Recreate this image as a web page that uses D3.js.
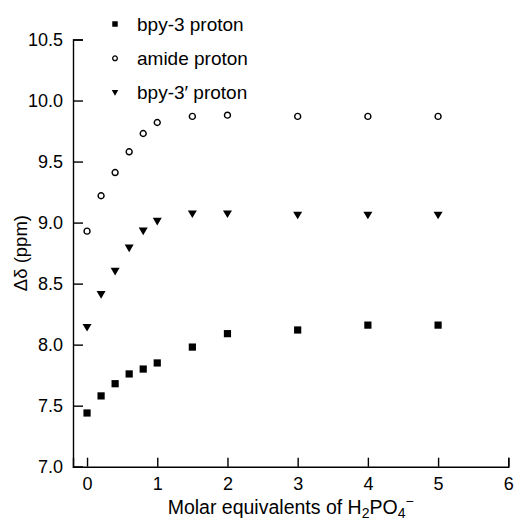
<!DOCTYPE html>
<html>
<head>
<meta charset="utf-8">
<script src="https://cdn.jsdelivr.net/npm/d3@7"></script>
<style>
  body { margin: 0; background: #fff; }
  svg text { font-family: "Liberation Sans", Arial, sans-serif; fill: #000; }
</style>
</head>
<body>
<div id="chart"></div>
<script>
// equivalents of H2PO4- added
var equivalents = [0, 0.2, 0.4, 0.6, 0.8, 1, 1.5, 2, 3, 4, 5];
// chemical shifts (ppm)
var bpy3 = [7.44, 7.58, 7.68, 7.76, 7.80, 7.85, 7.98, 8.09, 8.12, 8.16, 8.16];
var amide = [8.93, 9.22, 9.41, 9.58, 9.73, 9.82, 9.87, 9.88, 9.87, 9.87, 9.87];
var bpy3p = [8.14, 8.41, 8.60, 8.79, 8.93, 9.01, 9.07, 9.07, 9.06, 9.06, 9.06];
var seriesNames = ['bpy-3 proton', 'amide proton', 'bpy-3\u2032 proton'];
var xTicks = [0, 1, 2, 3, 4, 5, 6];
var yTicks = [7.0, 7.5, 8.0, 8.5, 9.0, 9.5, 10.0, 10.5];

(function() {
	'use strict';

	var width = 514, height = 520;
	var svg = d3.select('#chart').append('svg')
		.attr('width', width)
		.attr('height', height);

	var x = d3.scaleLinear().domain([-0.2, 6]).range([73, 508.3]);
	var y = d3.scaleLinear().domain([7, 10.5]).range([466.7, 39.5]);

	var xAxis = svg.append('g')
		.attr('transform', 'translate(0,' + y(7) + ')')
		.call(d3.axisBottom(x).tickValues(xTicks).tickFormat(d3.format('d'))
			.tickSizeInner(-9).tickSizeOuter(-9).tickPadding(11));
	xAxis.selectAll('text').style('font-size', '18px');

	var yAxis = svg.append('g')
		.attr('transform', 'translate(' + x(-0.2) + ',0)')
		.call(d3.axisLeft(y).tickValues(yTicks).tickFormat(d3.format('.1f'))
			.tickSizeInner(-10).tickSizeOuter(-10).tickPadding(10));
	yAxis.selectAll('text').style('font-size', '18px');

	svg.selectAll('.domain, .tick line')
		.attr('stroke', '#000')
		.attr('stroke-width', 1.4);

	// y label
	svg.append('text')
		.attr('transform', 'translate(27,' + ((y(7) + y(10.5)) / 2) + ') rotate(-90)')
		.attr('text-anchor', 'middle')
		.style('font-size', '18.5px')
		.text('\u0394\u03b4 (ppm)');

	// x label
	var xl = svg.append('text')
		.attr('x', (x(-0.2) + x(6)) / 2)
		.attr('y', 514)
		.attr('text-anchor', 'middle')
		.style('font-size', '19.5px');
	xl.append('tspan').text('Molar equivalents of H');
	xl.append('tspan').attr('dy', 4).style('font-size', '14px').text('2');
	xl.append('tspan').attr('dy', -4).text('PO');
	xl.append('tspan').attr('dy', 4).style('font-size', '14px').text('4');
	xl.append('tspan').attr('dy', -12).style('font-size', '14px').text('\u2212');

	var symSquare = d3.symbol().type(d3.symbolSquare);
	var triangle = function(s) {
		return 'M' + (-s / 2) + ',' + (-s * 0.4) + 'L' + (s / 2) + ',' + (-s * 0.4) + 'L0,' + (s * 0.45) + 'Z';
	};

	function points(data, draw) {
		var g = svg.append('g');
		var sel = g.selectAll('path').data(data).enter().append('path')
			.attr('transform', function(d, i) {
				return 'translate(' + x(equivalents[i]) + ',' + y(d) + ')';});
		draw(sel);
	}

	points(bpy3, function(sel) {
		sel.attr('d', symSquare.size(52)()).attr('fill', '#000');});
	points(amide, function(sel) {
		sel.attr('d', d3.symbol().type(d3.symbolCircle).size(28)())
			.attr('fill', '#fff').attr('stroke', '#000').attr('stroke-width', 1.4);});
	points(bpy3p, function(sel) {
		sel.attr('d', triangle(9)).attr('fill', '#000');});

	// legend
	var legendY = [24, 58.3, 92.7];
	var legend = svg.append('g');
	legend.append('path')
		.attr('transform', 'translate(115,' + legendY[0] + ')')
		.attr('d', symSquare.size(30)()).attr('fill', '#000');
	legend.append('path')
		.attr('transform', 'translate(115,' + legendY[1] + ')')
		.attr('d', d3.symbol().type(d3.symbolCircle).size(17)())
		.attr('fill', '#fff').attr('stroke', '#000').attr('stroke-width', 1.3);
	legend.append('path')
		.attr('transform', 'translate(115,' + legendY[2] + ')')
		.attr('d', triangle(6.5)).attr('fill', '#000');
	legend.selectAll('text').data(seriesNames).enter().append('text')
		.attr('x', 137)
		.attr('y', function(d, i) {return legendY[i] + 6.5;})
		.style('font-size', '19px')
		.text(function(d) {return d;});
})();
</script>
</body>
</html>
